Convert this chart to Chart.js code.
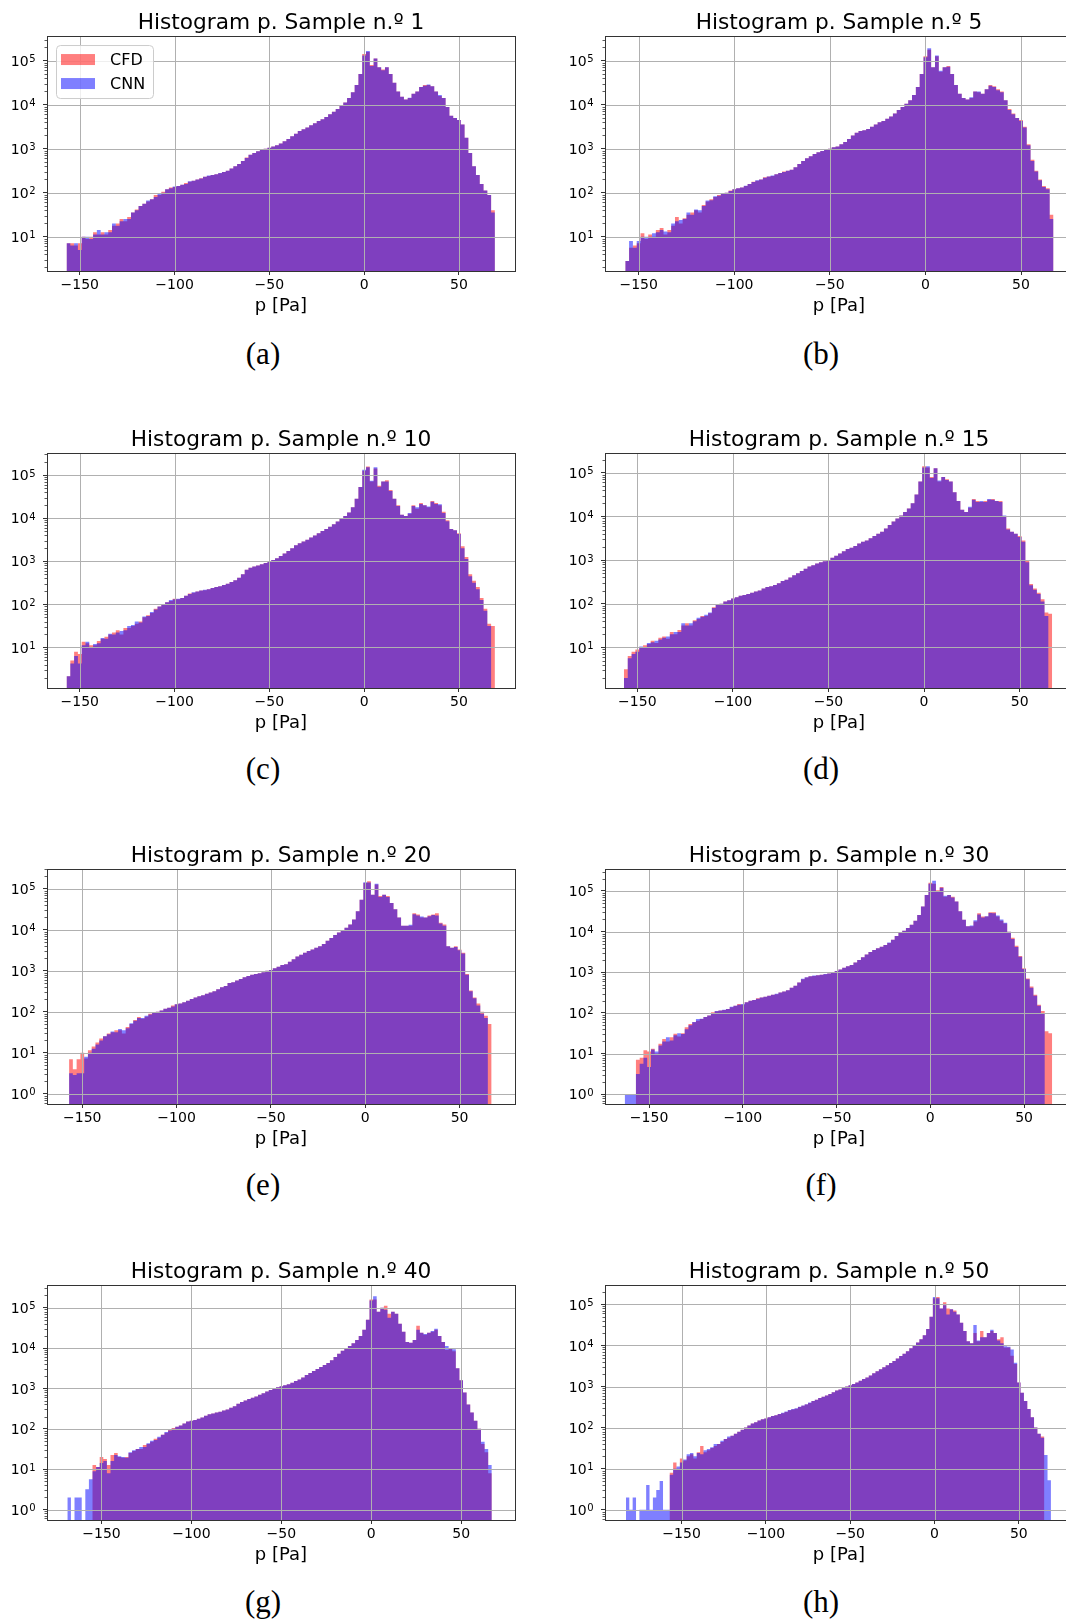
<!DOCTYPE html>
<html>
<head>
<meta charset="utf-8">
<script src="https://cdn.jsdelivr.net/npm/chart.js@4.4.1/dist/chart.umd.min.js"></script>
<style>
html, body { margin: 0; padding: 0; background: #fff; overflow: hidden; }
#figure { position: relative; width: 1066px; height: 1622px; overflow: hidden; background: #fff; }
#figure canvas { position: absolute; }
.caption { position: absolute; width: 100px; margin-left: -50px; margin-top: -18px; height: 36px; line-height: 36px;
  text-align: center; font-family: 'Liberation Serif', 'Times New Roman', serif; font-size: 31px; color: #000; }
</style>
</head>
<body>
<div id="figure"></div>
<script>
// log10 of the bin counts, 2 Pa bins; null = empty bin
const cfdA = [
  0.85,0.85,0.8,0.85,1.0,0.95,1.0,1.1,1.05,1.1,
  1.05,1.15,1.25,1.3,1.4,1.35,1.45,1.55,1.62,1.7,
  1.75,1.8,1.85,1.95,1.95,2.02,2.08,2.12,2.13,2.15,
  2.18,2.22,2.25,2.27,2.3,2.33,2.36,2.38,2.4,2.42,
  2.44,2.47,2.5,2.55,2.6,2.65,2.72,2.8,2.86,2.9,
  2.94,2.97,3.0,3.02,3.05,3.08,3.12,3.17,3.22,3.28,
  3.34,3.4,3.44,3.48,3.53,3.58,3.63,3.67,3.72,3.78,
  3.84,3.9,3.98,4.05,4.15,4.28,4.45,4.7,5.15,5.2,
  4.9,5.05,4.85,4.8,4.85,4.7,4.5,4.3,4.18,4.12,
  4.15,4.25,4.3,4.4,4.45,4.45,4.42,4.3,4.2,4.15,
  3.95,3.75,3.7,3.65,3.55,3.25,2.9,2.6,2.4,2.2,
  2.05,1.95,1.6];
const cnnA = [
  0.85,0.8,0.85,0.7,1.0,1.0,0.95,1.05,1.15,1.05,
  1.1,1.1,1.3,1.25,1.35,1.4,1.4,1.55,1.6,1.7,
  1.75,1.82,1.85,1.9,1.97,2.0,2.08,2.1,2.14,2.15,
  2.18,2.2,2.26,2.27,2.3,2.32,2.36,2.39,2.4,2.42,
  2.45,2.47,2.5,2.55,2.6,2.65,2.72,2.79,2.86,2.9,
  2.94,2.97,3.0,3.02,3.05,3.08,3.12,3.17,3.22,3.28,
  3.34,3.4,3.44,3.48,3.53,3.58,3.63,3.67,3.72,3.78,
  3.84,3.9,3.98,4.05,4.15,4.28,4.45,4.7,5.12,5.22,
  4.88,5.05,4.85,4.78,4.85,4.7,4.5,4.3,4.18,4.12,
  4.16,4.25,4.3,4.4,4.43,4.46,4.42,4.3,4.22,4.15,
  3.95,3.75,3.7,3.65,3.55,3.25,2.9,2.6,2.4,2.2,
  2.05,1.95,1.55];

const cfdB = [
  0.45,0.75,0.8,0.85,1.08,0.95,1.05,1.0,1.15,1.2,
  1.05,1.15,1.25,1.45,1.3,1.42,1.5,1.55,1.6,1.55,
  1.72,1.8,1.85,1.9,1.95,1.97,2.0,2.05,2.08,2.1,
  2.12,2.15,2.2,2.25,2.27,2.3,2.35,2.37,2.38,2.42,
  2.45,2.48,2.5,2.52,2.58,2.65,2.72,2.78,2.83,2.88,
  2.92,2.95,2.98,3.0,3.03,3.05,3.1,3.15,3.22,3.3,
  3.36,3.4,3.42,3.45,3.5,3.55,3.6,3.63,3.68,3.73,
  3.8,3.88,3.95,4.02,4.1,4.22,4.4,4.7,5.1,5.25,
  4.85,5.1,4.75,4.85,4.88,4.7,4.45,4.25,4.15,4.12,
  4.15,4.3,4.28,4.25,4.35,4.45,4.42,4.35,4.3,4.1,
  3.9,3.8,3.7,3.65,3.5,3.1,2.75,2.5,2.3,2.15,
  2.1,1.5];
const cnnB = [
  0.45,0.9,0.75,0.9,1.0,1.0,1.0,1.08,1.1,1.15,
  1.12,1.1,1.3,1.35,1.38,1.4,1.55,1.5,1.62,1.6,
  1.7,1.82,1.83,1.92,1.93,1.98,2.0,2.04,2.08,2.1,
  2.12,2.16,2.2,2.24,2.28,2.3,2.34,2.37,2.39,2.42,
  2.45,2.47,2.5,2.52,2.58,2.65,2.72,2.78,2.83,2.88,
  2.92,2.95,2.98,3.0,3.03,3.05,3.1,3.15,3.22,3.3,
  3.36,3.4,3.42,3.45,3.5,3.55,3.6,3.63,3.68,3.73,
  3.8,3.88,3.95,4.02,4.1,4.22,4.4,4.7,5.08,5.28,
  4.85,5.12,4.77,4.85,4.86,4.7,4.45,4.25,4.15,4.12,
  4.17,4.3,4.3,4.25,4.35,4.43,4.4,4.33,4.28,4.1,
  3.88,3.78,3.7,3.63,3.48,3.08,2.72,2.48,2.28,2.13,
  2.08,1.4];

const cfdC = [
  0.33,0.7,0.9,0.85,1.13,1.1,1.05,1.05,1.15,1.2,
  1.25,1.3,1.35,1.4,1.3,1.45,1.45,1.5,1.55,1.6,
  1.7,1.75,1.8,1.9,1.95,2.0,2.05,2.08,2.13,2.12,
  2.15,2.2,2.25,2.27,2.3,2.32,2.33,2.35,2.38,2.4,
  2.42,2.45,2.48,2.52,2.56,2.62,2.7,2.8,2.85,2.88,
  2.9,2.93,2.96,3.0,3.03,3.07,3.12,3.18,3.24,3.3,
  3.37,3.42,3.46,3.5,3.55,3.6,3.65,3.7,3.75,3.8,
  3.86,3.92,3.98,4.05,4.13,4.25,4.45,4.72,5.1,5.2,
  4.85,5.15,4.75,4.85,4.88,4.65,4.45,4.3,4.08,4.05,
  4.1,4.3,4.22,4.35,4.3,4.25,4.4,4.35,4.3,4.15,
  3.95,3.75,3.72,3.65,3.35,3.1,2.7,2.55,2.4,2.15,
  1.9,1.55,1.5];
const cnnC = [
  0.33,0.63,0.8,0.63,1.05,1.13,1.0,1.08,1.1,1.22,
  1.2,1.32,1.3,1.35,1.38,1.4,1.5,1.52,1.6,1.58,
  1.72,1.73,1.82,1.88,1.95,2.0,2.05,2.1,2.12,2.13,
  2.15,2.2,2.24,2.28,2.3,2.32,2.34,2.35,2.38,2.4,
  2.42,2.45,2.48,2.52,2.56,2.62,2.7,2.8,2.85,2.88,
  2.9,2.93,2.96,3.0,3.03,3.07,3.12,3.18,3.24,3.3,
  3.37,3.42,3.46,3.5,3.55,3.6,3.65,3.7,3.75,3.8,
  3.86,3.92,3.98,4.05,4.13,4.25,4.45,4.72,5.12,5.18,
  4.87,5.18,4.73,4.85,4.85,4.63,4.45,4.28,4.08,4.05,
  4.12,4.28,4.25,4.33,4.3,4.27,4.38,4.33,4.32,4.12,
  3.93,3.75,3.72,3.63,3.3,3.05,2.65,2.5,2.35,2.1,
  1.85,1.5,null];

const cfdD = [
  0.5,0.8,0.9,0.95,1.0,1.05,1.08,1.15,1.1,1.22,
  1.25,1.2,1.35,1.3,1.4,1.5,1.55,1.5,1.62,1.65,
  1.72,1.72,1.78,1.92,1.98,2.0,2.05,2.08,2.12,2.15,
  2.18,2.2,2.22,2.25,2.28,2.3,2.35,2.38,2.4,2.43,
  2.47,2.52,2.55,2.6,2.65,2.7,2.75,2.8,2.85,2.88,
  2.92,2.95,2.97,3.0,3.05,3.1,3.15,3.2,3.25,3.28,
  3.32,3.38,3.42,3.45,3.5,3.55,3.6,3.65,3.72,3.8,
  3.88,3.95,4.02,4.1,4.18,4.3,4.5,4.8,5.15,5.12,
  4.9,5.1,4.8,4.9,4.85,4.8,4.55,4.35,4.15,4.1,
  4.2,4.4,4.35,4.33,4.35,4.38,4.4,4.35,4.35,4.0,
  3.72,3.65,3.6,3.55,3.45,3.0,2.45,2.35,2.25,2.1,
  1.8,1.77];
const cnnD = [
  0.3,0.75,0.85,0.9,1.02,1.0,1.1,1.12,1.15,1.18,
  1.22,1.25,1.3,1.35,1.35,1.55,1.5,1.55,1.6,1.68,
  1.7,1.75,1.8,1.9,1.98,2.0,2.05,2.08,2.12,2.15,
  2.18,2.2,2.22,2.25,2.28,2.3,2.35,2.38,2.4,2.43,
  2.47,2.52,2.55,2.6,2.65,2.7,2.75,2.8,2.85,2.88,
  2.92,2.95,2.97,3.0,3.05,3.1,3.15,3.2,3.25,3.28,
  3.32,3.38,3.42,3.45,3.5,3.55,3.6,3.65,3.72,3.8,
  3.88,3.95,4.02,4.1,4.18,4.3,4.5,4.8,5.12,5.15,
  4.88,5.1,4.82,4.9,4.83,4.8,4.55,4.35,4.15,4.1,
  4.22,4.38,4.33,4.35,4.33,4.4,4.38,4.35,4.33,4.02,
  3.7,3.65,3.6,3.53,3.42,2.95,2.42,2.32,2.22,2.05,
  1.72,null];

const cfdE = [
  0.84,0.6,0.84,1.0,0.86,1.06,1.15,1.25,1.35,1.4,
  1.47,1.5,1.55,1.55,1.47,1.63,1.7,1.8,1.87,1.83,
  1.88,1.95,1.97,2.0,2.03,2.07,2.1,2.15,2.18,2.2,
  2.23,2.27,2.31,2.35,2.38,2.4,2.44,2.47,2.5,2.55,
  2.6,2.63,2.7,2.72,2.76,2.8,2.84,2.87,2.9,2.92,
  2.94,2.96,3.0,3.02,3.06,3.1,3.14,3.16,3.22,3.28,
  3.35,3.39,3.44,3.48,3.52,3.56,3.6,3.65,3.73,3.8,
  3.87,3.93,3.98,4.05,4.13,4.25,4.45,4.73,5.14,5.18,
  4.85,5.1,4.82,4.85,4.82,4.65,4.5,4.3,4.1,4.1,
  4.1,4.4,4.37,4.3,4.3,4.35,4.37,4.4,4.17,4.13,
  3.6,3.56,3.6,3.52,3.44,2.92,2.52,2.35,2.2,2.0,
  1.9,1.7];
const cnnE = [
  0.5,0.46,0.5,0.5,0.9,1.0,1.1,1.2,1.3,1.4,
  1.45,1.52,1.5,1.58,1.55,1.6,1.72,1.78,1.85,1.85,
  1.9,1.93,1.98,2.0,2.03,2.07,2.1,2.13,2.18,2.2,
  2.23,2.27,2.31,2.35,2.38,2.4,2.44,2.47,2.5,2.55,
  2.6,2.63,2.7,2.72,2.76,2.8,2.84,2.87,2.9,2.92,
  2.94,2.96,3.0,3.02,3.06,3.1,3.14,3.16,3.22,3.28,
  3.35,3.39,3.44,3.48,3.52,3.56,3.6,3.65,3.73,3.8,
  3.87,3.93,3.98,4.05,4.13,4.25,4.45,4.73,5.16,5.15,
  4.85,5.12,4.8,4.85,4.8,4.65,4.5,4.3,4.1,4.1,
  4.12,4.38,4.35,4.32,4.3,4.33,4.36,4.35,4.15,4.1,
  3.6,3.56,3.58,3.5,3.42,2.9,2.5,2.33,2.15,1.95,
  1.85,null];

const cfdF = [
  null,null,null,0.85,0.9,1.08,1.05,1.12,1.0,1.24,
  1.36,1.3,1.4,1.49,1.42,1.5,1.65,1.73,1.77,1.81,
  1.85,1.9,1.94,2.02,2.04,2.06,2.07,2.1,2.14,2.18,
  2.22,2.2,2.26,2.3,2.32,2.36,2.38,2.4,2.42,2.45,
  2.46,2.5,2.53,2.56,2.62,2.67,2.75,2.83,2.87,2.9,
  2.91,2.93,2.94,2.95,2.97,2.99,3.03,3.07,3.11,3.15,
  3.18,3.24,3.3,3.37,3.44,3.5,3.55,3.59,3.63,3.67,
  3.72,3.8,3.89,3.97,4.02,4.09,4.17,4.27,4.41,4.62,
  4.9,5.2,5.18,5.02,5.1,4.86,4.9,4.86,4.74,4.5,
  4.29,4.13,4.13,4.25,4.45,4.37,4.37,4.48,4.48,4.37,
  4.27,4.2,4.0,3.85,3.65,3.4,3.1,2.85,2.65,2.45,
  2.2,2.05,1.55,1.5];
const cnnF = [
  0,0,0,0.5,0.75,0.9,0.67,1.1,1.05,1.2,
  1.3,1.4,1.32,1.45,1.5,1.48,1.6,1.7,1.78,1.85,
  1.86,1.9,1.94,2.0,2.05,2.06,2.08,2.1,2.15,2.18,
  2.2,2.22,2.26,2.3,2.32,2.35,2.38,2.4,2.42,2.45,
  2.47,2.5,2.53,2.56,2.62,2.67,2.75,2.84,2.88,2.9,
  2.92,2.93,2.94,2.96,2.97,2.99,3.03,3.07,3.11,3.15,
  3.18,3.24,3.3,3.37,3.44,3.5,3.55,3.59,3.63,3.67,
  3.73,3.8,3.89,3.97,4.02,4.09,4.17,4.27,4.41,4.62,
  4.9,5.18,5.25,5.0,5.08,4.88,4.9,4.84,4.74,4.5,
  4.29,4.13,4.15,4.28,4.42,4.35,4.38,4.46,4.45,4.4,
  4.3,4.22,4.0,3.82,3.62,3.38,3.08,2.83,2.62,2.42,
  2.18,2.0,null,null];

const cfdG = [
  null,null,null,null,null,null,null,1.1,1.05,1.3,
  1.25,1.1,1.35,1.4,1.3,1.28,1.3,1.4,1.45,1.5,
  1.5,1.6,1.62,1.68,1.75,1.78,1.85,1.9,1.98,2.02,
  2.05,2.08,2.13,2.18,2.2,2.22,2.25,2.28,2.32,2.36,
  2.38,2.4,2.42,2.45,2.48,2.52,2.56,2.62,2.66,2.7,
  2.74,2.77,2.8,2.84,2.88,2.92,2.96,3.0,3.03,3.05,
  3.08,3.1,3.14,3.18,3.22,3.27,3.33,3.38,3.43,3.48,
  3.53,3.58,3.63,3.7,3.78,3.86,3.93,3.99,4.05,4.12,
  4.2,4.3,4.45,4.7,5.2,5.2,4.9,5.0,5.05,4.85,
  4.9,4.85,4.6,4.4,4.15,4.13,4.2,4.55,4.38,4.33,
  4.38,4.4,4.45,4.3,4.15,3.95,4.0,3.92,3.5,3.2,
  2.9,2.6,2.4,2.2,2.0,1.62,1.42,0.9];
const cnnG = [
  0.3,null,0.3,0.3,null,0.5,0.75,0.95,1.05,1.15,
  1.2,0.9,1.2,1.35,1.32,1.3,1.28,1.42,1.47,1.5,
  1.55,1.55,1.64,1.7,1.72,1.8,1.85,1.92,1.96,2.0,
  2.05,2.08,2.13,2.18,2.2,2.22,2.25,2.28,2.32,2.36,
  2.38,2.4,2.42,2.45,2.48,2.52,2.56,2.62,2.66,2.7,
  2.74,2.77,2.8,2.84,2.88,2.92,2.96,3.0,3.03,3.05,
  3.08,3.1,3.14,3.18,3.22,3.27,3.33,3.38,3.43,3.48,
  3.53,3.58,3.63,3.7,3.78,3.86,3.93,3.99,4.05,4.12,
  4.2,4.3,4.45,4.7,5.18,5.28,4.9,5.0,4.95,4.75,
  4.9,4.85,4.6,4.4,4.15,4.13,4.2,4.45,4.38,4.35,
  4.38,4.42,4.48,4.3,4.15,4.05,4.0,3.97,3.5,3.2,
  2.9,2.6,2.4,2.2,2.0,1.68,1.5,1.1];

const cfdH = [
  null,null,null,null,null,null,null,null,null,null,
  null,null,null,0.9,1.15,1.0,1.25,1.2,1.3,1.35,
  1.25,1.4,1.55,1.4,1.45,1.5,1.55,1.6,1.65,1.72,
  1.75,1.8,1.85,1.9,1.95,2.0,2.05,2.1,2.13,2.17,
  2.2,2.22,2.25,2.28,2.3,2.33,2.35,2.38,2.42,2.44,
  2.46,2.5,2.53,2.56,2.6,2.65,2.68,2.72,2.75,2.78,
  2.82,2.86,2.9,2.93,2.97,3.0,3.03,3.06,3.1,3.14,
  3.18,3.22,3.27,3.32,3.37,3.42,3.47,3.52,3.57,3.62,
  3.68,3.74,3.8,3.86,3.93,4.0,4.07,4.15,4.25,4.4,
  4.7,5.15,5.18,4.9,5.05,4.9,4.88,4.85,4.75,4.55,
  4.35,4.1,4.05,4.3,4.1,4.35,4.2,4.3,4.35,4.3,
  4.15,4.2,3.95,3.95,3.75,3.55,3.1,2.85,2.65,2.45,
  2.25,2.0,1.85,1.78,null,null];
const cnnH = [
  0.3,0,0.3,null,0,0,0.6,0,0.3,0.48,
  0.7,0,0,0.85,1.0,1.05,1.15,1.22,1.35,1.38,
  1.3,1.38,1.35,1.45,1.48,1.52,1.6,1.6,1.68,1.72,
  1.78,1.8,1.85,1.9,1.95,2.0,2.05,2.1,2.13,2.17,
  2.2,2.22,2.25,2.28,2.3,2.33,2.36,2.39,2.43,2.45,
  2.47,2.51,2.54,2.57,2.61,2.65,2.68,2.72,2.75,2.78,
  2.82,2.86,2.9,2.93,2.97,3.0,3.03,3.06,3.1,3.14,
  3.18,3.22,3.27,3.32,3.37,3.42,3.47,3.52,3.57,3.62,
  3.68,3.74,3.8,3.86,3.93,4.0,4.07,4.15,4.25,4.4,
  4.7,5.18,5.15,4.9,4.98,4.75,4.88,4.82,4.75,4.55,
  4.35,4.1,4.05,4.5,4.12,4.2,4.2,4.3,4.38,4.3,
  4.12,4.05,3.98,3.97,3.9,3.58,3.1,2.85,2.65,2.45,
  2.25,2.0,1.85,1.75,1.33,0.72];

// left edge of the first bin [Pa] for each panel
const binStarts = [-157, -157, -157, -157, -157, -163, -169, -183];
const binWidth = 2;
const sampleNumbers = [1, 5, 10, 15, 20, 30, 40, 50];
const captionLabels = ['(a)', '(b)', '(c)', '(d)', '(e)', '(f)', '(g)', '(h)'];
const seriesLabels = ['CFD', 'CNN'];
const cfdSeries = [cfdA, cfdB, cfdC, cfdD, cfdE, cfdF, cfdG, cfdH];
const cnnSeries = [cnnA, cnnB, cnnC, cnnD, cnnE, cnnF, cnnG, cnnH];
const xTickValues = [-150, -100, -50, 0, 50];
const xLimits = [[-167.3, 79.6], [-167.6, 77.2], [-167.3, 79.6], [-166.9, 77.9],
                 [-168.7, 79.4], [-173.5, 76.1], [-180.3, 79.9], [-195.4, 82.1]];
const yLogLimits = [[0.22, 5.56], [0.22, 5.56], [0.06, 5.51], [0.07, 5.45],
                    [-0.25, 5.48], [-0.24, 5.54], [-0.26, 5.56], [-0.25, 5.47]];

const FONT = "'DejaVu Sans', sans-serif";
Chart.defaults.font.family = FONT;
Chart.defaults.color = '#000';

function minusLabel(v) {
    return v < 0 ? '\u2212' + Math.abs(v) : String(v);
}

// empty bins are pushed below the axis so the step outline drops to the floor
const EMPTY = 1e-3;
function toSteps(start, logs) {
    const pts = logs.map((v, i) => ({ x: start + i * binWidth, y: v === null ? EMPTY : Math.pow(10, v) }));
    pts.push({ x: start + logs.length * binWidth, y: pts[pts.length - 1].y });
    return pts;
}

// grid over the bars, minor log ticks, power-of-ten labels and the box around the axes
const axesDecor = {
    id: 'axesDecor',
    afterDatasetsDraw(chart) {
        const { ctx, chartArea: a, scales: { x, y } } = chart;
        ctx.save();
        ctx.beginPath();
        ctx.rect(a.left, a.top, a.width, a.height);
        ctx.clip();
        ctx.strokeStyle = '#b0b0b0';
        ctx.lineWidth = 1;
        ctx.beginPath();
        x.ticks.forEach(t => {
            const px = Math.round(x.getPixelForValue(t.value)) + 0.5;
            ctx.moveTo(px, a.top); ctx.lineTo(px, a.bottom);
        });
        y.ticks.forEach(t => {
            const py = Math.round(y.getPixelForValue(t.value)) + 0.5;
            ctx.moveTo(a.left, py); ctx.lineTo(a.right, py);
        });
        ctx.stroke();
        ctx.restore();

        ctx.save();
        ctx.strokeStyle = '#333';
        ctx.lineWidth = 0.8;
        ctx.beginPath();
        const k0 = Math.floor(Math.log10(y.min)), k1 = Math.ceil(Math.log10(y.max));
        for (let k = k0; k <= k1; k++) {
            for (let m = 2; m <= 9; m++) {
                const v = m * Math.pow(10, k);
                if (v < y.min || v > y.max) continue;
                const py = Math.round(y.getPixelForValue(v)) + 0.5;
                ctx.moveTo(a.left - 2.5, py); ctx.lineTo(a.left, py);
            }
        }
        ctx.stroke();
        ctx.lineWidth = 1;
        ctx.strokeRect(Math.round(a.left) + 0.5, Math.round(a.top) + 0.5, Math.round(a.width), Math.round(a.height));

        // "10" with a raised exponent, like the mathtext labels
        ctx.fillStyle = '#000';
        ctx.textAlign = 'right';
        ctx.textBaseline = 'alphabetic';
        const right = a.left - 11.5;
        y.ticks.forEach(t => {
            const py = y.getPixelForValue(t.value);
            const exp = String(Math.round(Math.log10(t.value)));
            ctx.font = '10px ' + FONT;
            const ew = ctx.measureText(exp).width;
            ctx.fillText(exp, right, py + 1.5);
            ctx.font = '14px ' + FONT;
            ctx.fillText('10', right - ew - 0.5, py + 5.2);
        });
        ctx.restore();
    }
};

const cornerLegend = {
    id: 'cornerLegend',
    afterDraw(chart, args, opts) {
        if (!opts.show) return;
        const { ctx, chartArea: a } = chart;
        const bx = a.left + 9, by = a.top + 9;
        ctx.save();
        ctx.fillStyle = 'rgba(255,255,255,0.8)';
        ctx.strokeStyle = '#cccccc';
        ctx.lineWidth = 1;
        ctx.beginPath();
        ctx.roundRect(bx + 0.5, by + 0.5, 97, 53, 4);
        ctx.fill();
        ctx.stroke();
        chart.data.datasets.forEach((ds, i) => {
            const cy = by + 14.5 + i * 24;
            ctx.fillStyle = ds.backgroundColor;
            ctx.fillRect(bx + 5, cy - 5.5, 34, 11);
            ctx.fillStyle = '#000';
            ctx.font = '16px ' + FONT;
            ctx.textAlign = 'left';
            ctx.textBaseline = 'middle';
            ctx.fillText(ds.label, bx + 54, cy + 1);
        });
        ctx.restore();
    }
};

const figure = document.getElementById('figure');
const plotLefts = [47, 605];
const plotTops = [34, 451, 867, 1283];
const captionXs = [263, 821];
const captionYs = [354, 769, 1185, 1602];

sampleNumbers.forEach((n, i) => {
    const col = i % 2, row = Math.floor(i / 2);
    const canvas = document.createElement('canvas');
    canvas.width = 562;
    canvas.height = 321;
    canvas.style.left = (plotLefts[col] - 47) + 'px';
    canvas.style.top = (plotTops[row] - 34) + 'px';
    figure.appendChild(canvas);

    const cap = document.createElement('div');
    cap.className = 'caption';
    cap.textContent = captionLabels[i];
    cap.style.left = captionXs[col] + 'px';
    cap.style.top = captionYs[row] + 'px';
    figure.appendChild(cap);

    const [lo, hi] = yLogLimits[i];
    new Chart(canvas.getContext('2d'), {
        type: 'line',
        data: {
            datasets: [
                {
                    label: seriesLabels[0],
                    data: toSteps(binStarts[i], cfdSeries[i]),
                    backgroundColor: 'rgba(255,0,0,0.5)',
                    borderColor: 'rgba(0,0,0,0)',
                    borderWidth: 0,
                    pointRadius: 0,
                    stepped: true,
                    fill: 'start',
                    order: 1
                },
                {
                    label: seriesLabels[1],
                    data: toSteps(binStarts[i], cnnSeries[i]),
                    backgroundColor: 'rgba(0,0,255,0.5)',
                    borderColor: 'rgba(0,0,0,0)',
                    borderWidth: 0,
                    pointRadius: 0,
                    stepped: true,
                    fill: 'start',
                    order: 0
                }
            ]
        },
        options: {
            responsive: false,
            animation: false,
            devicePixelRatio: 1,
            events: [],
            layout: { padding: 0 },
            plugins: {
                legend: { display: false },
                tooltip: { enabled: false },
                title: {
                    display: true,
                    text: 'Histogram p. Sample n.\u00BA ' + n,
                    font: { size: 21.7, weight: 'normal' },
                    color: '#000',
                    padding: { top: 10, bottom: 0 }
                },
                cornerLegend: { show: i === 0 }
            },
            scales: {
                x: {
                    type: 'linear',
                    bounds: 'data',
                    min: xLimits[i][0],
                    max: xLimits[i][1],
                    afterFit: s => { s.height = 50; },
                    afterBuildTicks: s => {
                        s.ticks = xTickValues.filter(v => v >= s.min && v <= s.max).map(v => ({ value: v }));
                    },
                    ticks: { callback: v => minusLabel(v), font: { size: 14 }, color: '#000', padding: 2, maxRotation: 0, autoSkip: false },
                    grid: { drawOnChartArea: false, tickLength: 4, tickColor: '#333' },
                    border: { display: false },
                    title: { display: true, text: 'p [Pa]', font: { size: 18 }, color: '#000', padding: { top: 0, bottom: 4 } }
                },
                y: {
                    type: 'logarithmic',
                    bounds: 'data',
                    min: Math.pow(10, lo),
                    max: Math.pow(10, hi),
                    afterFit: s => { s.width = 47; },
                    afterBuildTicks: s => {
                        const t = [];
                        for (let k = Math.ceil(lo); k <= Math.floor(hi); k++) t.push({ value: Math.pow(10, k) });
                        s.ticks = t;
                    },
                    ticks: { display: false, autoSkip: false },
                    grid: { drawOnChartArea: false, tickLength: 4, tickColor: '#333' },
                    border: { display: false }
                },
                // empty right-hand strip, same width as the y axis, so the title sits over the plot centre
                side: {
                    type: 'linear',
                    position: 'right',
                    afterFit: s => { s.width = 47; },
                    ticks: { display: false },
                    grid: { display: false },
                    border: { display: false }
                }
            }
        },
        plugins: [axesDecor, cornerLegend]
    });
});
</script>
</body>
</html>
